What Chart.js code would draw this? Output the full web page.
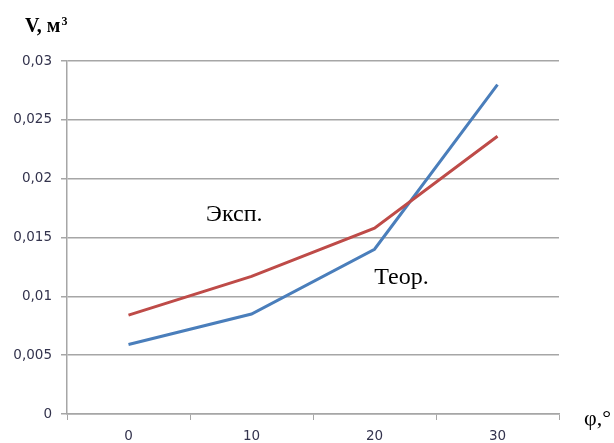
<!DOCTYPE html>
<html>
<head>
<meta charset="utf-8">
<script src="https://cdn.jsdelivr.net/npm/chart.js@4"></script>
<style>
  html, body { margin: 0; padding: 0; background: #fff; }
  #wrap { width: 614px; height: 443px; position: relative; }
</style>
</head>
<body>
<div id="wrap"><canvas id="line-chart"></canvas></div>
<script>
// data
const angles = ['0', '10', '20', '30'];
const theory = [0.0059, 0.0085, 0.0140, 0.0280];   // Теор. (blue)
const experiment = [0.0084, 0.0117, 0.0158, 0.0236]; // Эксп. (red)
const yTicks = [0, 0.005, 0.01, 0.015, 0.02, 0.025, 0.03];

// captions drawn on top of the plot
const labelsPlugin = {
  id: 'captions',
  afterDraw(chart) {
    const c = chart.ctx;
    const x = chart.scales.x, y = chart.scales.y;
    c.save();
    c.fillStyle = '#000';
    c.textBaseline = 'alphabetic';
    c.textAlign = 'left';
    c.font = 'bold 20px "Liberation Serif", serif';
    c.fillText('V, м', 25, 32);
    const w = c.measureText('V, м').width;
    c.font = 'bold 12px "Liberation Serif", serif';
    c.fillText('3', 25 + w + 1, 25);
    c.font = '22px "Liberation Serif", serif';
    c.fillText('φ,°', 584, 425);
    // series names
    c.font = '24px "Liberation Serif", serif';
    c.textBaseline = 'middle';
    c.textAlign = 'center';
    const px = (i) => x.getPixelForValue(0) + i * (x.getPixelForValue(1) - x.getPixelForValue(0));
    c.fillText('Эксп.', px(0.86), y.getPixelForValue(0.0169));
    c.fillText('Теор.', px(2.22), y.getPixelForValue(0.0116));
    c.restore();
  }
};

new Chart(document.getElementById('line-chart'), {
  type: 'line',
  data: {
    labels: angles,
    datasets: [{
      label: 'Эксп.',
      data: experiment,
      borderColor: '#BE4B48',
      borderWidth: 3,
      pointRadius: 0,
      tension: 0,
      fill: false
    }, {
      label: 'Теор.',
      data: theory,
      borderColor: '#4A7EBB',
      borderWidth: 3,
      pointRadius: 0,
      tension: 0,
      fill: false
    }]
  },
  options: {
    responsive: true,
    maintainAspectRatio: false,
    animation: false,
    layout: { padding: { top: 61, right: 55, bottom: 0, left: 0 } },
    plugins: {
      legend: { display: false },
      tooltip: { enabled: false }
    },
    scales: {
      x: {
        offset: true,
        grid: { offset: true, drawOnChartArea: false, drawTicks: true, tickLength: 6, color: '#A6A6A6' },
        border: { color: '#A6A6A6', width: 1.5 },
        ticks: { color: '#33334D', font: { family: '"DejaVu Sans", sans-serif', size: 13.5 }, padding: 8 },
        afterFit(s) { s.height = 29; }
      },
      y: {
        min: 0,
        max: 0.03,
        afterBuildTicks(s) { s.ticks = yTicks.map(v => ({ value: v })); },
        grid: { color: '#A6A6A6', lineWidth: 1.5, tickLength: 6 },
        border: { color: '#A6A6A6', width: 1.5 },
        ticks: {
          color: '#33334D',
          font: { family: '"DejaVu Sans", sans-serif', size: 13.5 },
          padding: 9,
          callback: v => String(+v.toFixed(3)).replace('.', ',')
        },
        afterFit(s) { s.width = 67; }
      }
    }
  },
  plugins: [labelsPlugin]
});
</script>
</body>
</html>
